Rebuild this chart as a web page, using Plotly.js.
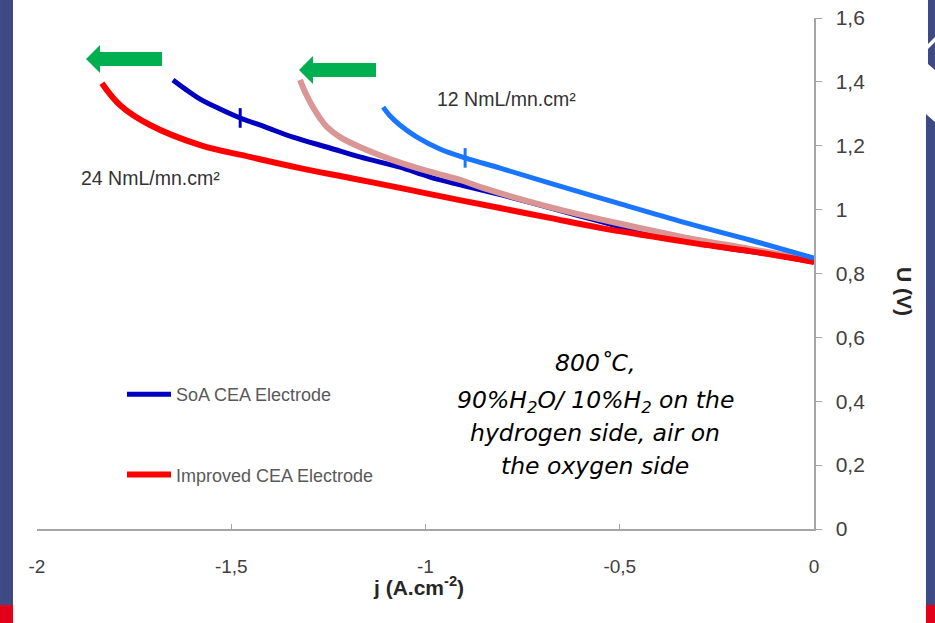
<!DOCTYPE html>
<html><head><meta charset="utf-8">
<script src="https://cdn.plot.ly/plotly-3.0.1.min.js"></script>
<style>html,body{margin:0;padding:0;background:#fff;}#chart{width:935px;height:623px;}</style>
</head><body><div id="chart"></div>
<script>
// Data: current density j (A/cm2) and cell voltage U (V)
const soa24J = [-1.650,-1.619,-1.580,-1.529,-1.477,-1.413,-1.341,-1.246,-1.169,-1.066,-0.988,-0.795,-0.602,-0.422,-0.242,-0.088,0];
const soa24U = [1.406,1.378,1.346,1.315,1.287,1.259,1.227,1.193,1.165,1.133,1.102,1.043,0.980,0.923,0.883,0.855,0.836];

const imp24J = [-1.833,-1.786,-1.709,-1.580,-1.452,-1.323,-1.194,-1.066,-0.937,-0.808,-0.680,-0.551,-0.422,-0.293,-0.165,0];
const imp24U = [1.396,1.327,1.265,1.202,1.165,1.130,1.099,1.068,1.036,1.005,0.974,0.943,0.917,0.892,0.870,0.836];

const imp12J = [-1.323,-1.310,-1.290,-1.272,-1.254,-1.220,-1.169,-1.084,-0.996,-0.911,-0.852,-0.680,-0.507,-0.337,-0.165,-0.005];
const imp12U = [1.406,1.368,1.321,1.287,1.259,1.227,1.196,1.155,1.121,1.093,1.068,1.008,0.958,0.914,0.877,0.842];

const soa12J = [-1.109,-1.091,-1.066,-1.022,-0.963,-0.898,-0.808,-0.680,-0.507,-0.337,-0.165,0];
const soa12U = [1.321,1.293,1.265,1.227,1.190,1.162,1.130,1.083,1.021,0.961,0.905,0.848];

// small vertical tick marks on the SoA curves
const markJ = [-1.477,-0.898];
const markU = [1.287,1.162];

const seriesNames = ['SoA CEA Electrode','Improved CEA Electrode'];
const flowLabels = ['24 NmL/mn.cm²','12 NmL/mn.cm²'];
const xTicks = [-2,-1.5,-1,-0.5,0];
const xTickText = ['-2','-1,5','-1','-0,5','0'];
const yTicks = [0,0.2,0.4,0.6,0.8,1,1.2,1.4,1.6];
const yTickText = ['0','0,2','0,4','0,6','0,8','1','1,2','1,4','1,6'];

const narrow = 'Liberation Sans Narrow, Arial Narrow, Liberation Sans, sans-serif';
const txt = '#404040';

const traces = [
  {x: soa24J, y: soa24U, mode:'lines', name: seriesNames[0], legendgroup:'a', line:{color:'#0000c0', width:5, shape:'spline'}},
  {x: imp12J, y: imp12U, mode:'lines', line:{color:'#d99694', width:6, shape:'spline'}, showlegend:false},
  {x: imp24J, y: imp24U, mode:'lines', name: seriesNames[1], legendgroup:'b', line:{color:'#ff0000', width:6, shape:'spline'}},
  {x: soa12J, y: soa12U, mode:'lines', line:{color:'#1a75ff', width:5, shape:'spline'}, showlegend:false},
  {x: [markJ[0]], y: [markU[0]], mode:'markers', marker:{symbol:'line-ns', size:14, line:{width:3, color:'#0000c0'}}, showlegend:false},
  {x: [markJ[1]], y: [markU[1]], mode:'markers', marker:{symbol:'line-ns', size:14, line:{width:3, color:'#1a75ff'}}, showlegend:false}
];

// pixel -> paper helper for decorations (plot area 37..814 x 18..529)
function P(x,y){return ((x-37)/777).toFixed(4)+','+((529-y)/511).toFixed(4);}
function path(pts){return 'M'+pts.map(p=>P(p[0],p[1])).join('L')+'Z';}
const dark = '#3d4a84', redBar = '#e2001a', green = '#00b050';

const shapes = [
  {type:'path', xref:'paper', yref:'paper', path:path([[0,0],[13,0],[13,605],[0,605]]), fillcolor:dark, line:{width:0}, layer:'below'},
  {type:'path', xref:'paper', yref:'paper', path:path([[0,605],[13,605],[13,623],[0,623]]), fillcolor:redBar, line:{width:0}, layer:'below'},
  {type:'path', xref:'paper', yref:'paper', path:path([[928,0],[935,0],[935,37],[928,44]]), fillcolor:dark, line:{width:0}, layer:'below'},
  {type:'path', xref:'paper', yref:'paper', path:path([[928,49],[935,42],[935,70],[928,64]]), fillcolor:dark, line:{width:0}, layer:'below'},
  {type:'path', xref:'paper', yref:'paper', path:path([[926,114],[935,122],[935,605],[926,605]]), fillcolor:dark, line:{width:0}, layer:'below'},
  {type:'path', xref:'paper', yref:'paper', path:path([[926,605],[935,605],[935,623],[926,623]]), fillcolor:redBar, line:{width:0}, layer:'below'},
  // green arrows
  {type:'path', xref:'paper', yref:'paper', path:path([[86,59],[100,45],[100,52],[162,52],[162,66],[100,66],[100,73]]), fillcolor:green, line:{width:0}},
  {type:'path', xref:'paper', yref:'paper', path:path([[299,70],[313,56],[313,63],[376,63],[376,77],[313,77],[313,84]]), fillcolor:green, line:{width:0}}
];

const centerFont = {family:'DejaVu Sans, sans-serif', size:23.5, color:'#000', style:'italic'};
function ctr(text, y){return {xref:'paper', yref:'paper', x:(595-37)/777, y:(529-y)/511, xanchor:'center', yanchor:'middle', showarrow:false, text:text, font:centerFont};}

const labelFont = {family:'Liberation Sans, Arial, sans-serif', size:19.5, color:'#333'};
const annotations = [
  {xref:'paper', yref:'paper', x:(150-37)/777, y:(529-178)/511, xanchor:'center', yanchor:'middle', showarrow:false, text:flowLabels[0], font:labelFont},
  {xref:'paper', yref:'paper', x:(506-37)/777, y:(529-99)/511, xanchor:'center', yanchor:'middle', showarrow:false, text:flowLabels[1], font:labelFont},
  ctr('800˚C,', 363),
  ctr('90%H<sub>2</sub>O/ 10%H<sub>2</sub> on the', 401),
  ctr('hydrogen side, air on', 433),
  ctr('the oxygen side', 466),
  {xref:'paper', yref:'paper', x:(905-37)/777, y:(529-292)/511, xanchor:'center', yanchor:'middle', showarrow:false, textangle:90, text:'<b>U (V)</b>', font:{family:narrow, size:21, color:'#262626'}},
  {xref:'paper', yref:'paper', x:(418-37)/777, y:(529-586)/511, xanchor:'center', yanchor:'middle', showarrow:false, text:'<b>j (A.cm<sup>-2</sup>)</b>', font:{family:narrow, size:21, color:'#262626'}}
];

const layout = {
  width:935, height:623,
  margin:{l:37, r:121, t:18, b:94},
  paper_bgcolor:'#fff', plot_bgcolor:'#fff',
  separators:', ',
  showlegend:true,
  legend:{x:(122-37)/777, y:(529-376)/511, xanchor:'left', yanchor:'top', bgcolor:'rgba(0,0,0,0)', borderwidth:0,
          font:{family:narrow, size:18, color:'#595959'}, tracegroupgap:54, itemwidth:44, traceorder:'grouped'},
  xaxis:{range:[-2,0], tickvals:xTicks, ticktext:xTickText, ticks:'inside', ticklen:5, tickcolor:'#a6a6a6', showline:true, linecolor:'#a6a6a6', linewidth:1.5,
         showgrid:false, zeroline:false, ticklabelstandoff:20, tickfont:{family:narrow, size:19, color:txt}},
  yaxis:{range:[0,1.6], tickvals:yTicks, ticktext:yTickText, side:'right', ticks:'outside', ticklen:6, tickcolor:'#a6a6a6', showline:true, linecolor:'#a6a6a6', linewidth:1.5,
         showgrid:false, zeroline:false, ticklabelstandoff:10, tickfont:{family:narrow, size:21, color:txt}},
  shapes:shapes, annotations:annotations
};

Plotly.newPlot('chart', traces, layout, {displayModeBar:false, staticPlot:true});
</script></body></html>
